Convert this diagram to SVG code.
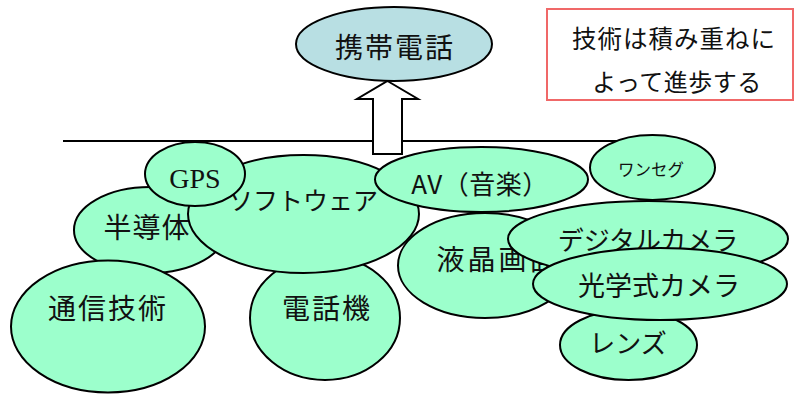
<svg xmlns="http://www.w3.org/2000/svg" width="794" height="394" viewBox="0 0 794 394">
<style>
.n{fill:#9cffcc;stroke:#000;stroke-width:2}
.t{font-family:"Noto Sans CJK JP","Liberation Sans",sans-serif;fill:#111;text-anchor:middle}
.s{font-family:"Liberation Serif",serif;fill:#111;text-anchor:middle}
</style>
<rect width="794" height="394" fill="#fff"/>
<g id="connectors">
<line x1="63" y1="141" x2="640" y2="141" stroke="#000" stroke-width="2"/>
<polygon points="387.5,81 418,99 402,99 402,154 373,154 373,99 357,99" fill="#fff" stroke="#000" stroke-width="2"/>
</g>
<g id="keitai">
<ellipse cx="394" cy="44" rx="98" ry="37" fill="#b8dfe3" stroke="#000" stroke-width="2"/>
<text class="t" x="395" y="58" font-size="28" letter-spacing="2">携帯電話</text>
</g>
<g id="note">
<rect x="547" y="9" width="246" height="91" fill="#fff" stroke="#f06868" stroke-width="2"/>
<text class="t" x="674" y="48" font-size="24.5" letter-spacing="1">技術は積み重ねに</text>
<text class="t" x="677" y="91" font-size="24" letter-spacing="0.5">よって進歩する</text>
</g>
<g id="handoutai">
<ellipse class="n" cx="150" cy="230" rx="76" ry="43"/>
<text class="t" x="147" y="238" font-size="28" letter-spacing="1">半導体</text>
</g>
<g id="tsushin">
<ellipse class="n" cx="108" cy="326.5" rx="97" ry="66"/>
<text class="t" x="108" y="319" font-size="28" letter-spacing="2">通信技術</text>
</g>
<g id="denwaki">
<ellipse class="n" cx="325" cy="318" rx="75" ry="62"/>
<text class="t" x="327" y="319" font-size="28" letter-spacing="2">電話機</text>
</g>
<g id="software">
<ellipse class="n" cx="303.5" cy="214" rx="115.5" ry="59"/>
<text class="t" x="303" y="210" font-size="25">ソフトウェア</text>
</g>
<g id="gps">
<ellipse class="n" cx="195" cy="174" rx="50" ry="32"/>
<text class="s" x="195" y="188" font-size="28">GPS</text>
</g>
<g id="av">
<ellipse class="n" cx="481.5" cy="179.5" rx="106.5" ry="32.5"/>
<text class="t" x="480" y="194" font-size="26" letter-spacing="0.5">AV（音楽）</text>
</g>
<g id="oneseg">
<ellipse class="n" cx="652.5" cy="167.5" rx="62.5" ry="32.5"/>
<text class="t" x="651" y="176" font-size="16.5">ワンセグ</text>
</g>
<g id="ekisho">
<ellipse class="n" cx="485" cy="265.5" rx="87" ry="52.5"/>
<text class="t" x="498.5" y="270" font-size="28" letter-spacing="3">液晶画面</text>
</g>
<g id="digicam">
<ellipse class="n" cx="648" cy="239" rx="140" ry="38"/>
<text class="t" x="648" y="250" font-size="26">デジタルカメラ</text>
</g>
<g id="lens">
<ellipse class="n" cx="628.5" cy="345" rx="68.5" ry="35"/>
<text class="t" x="628" y="353" font-size="26">レンズ</text>
</g>
<g id="kogaku">
<ellipse class="n" cx="660" cy="284" rx="127" ry="36"/>
<text class="t" x="659" y="296" font-size="27">光学式カメラ</text>
</g>
</svg>
